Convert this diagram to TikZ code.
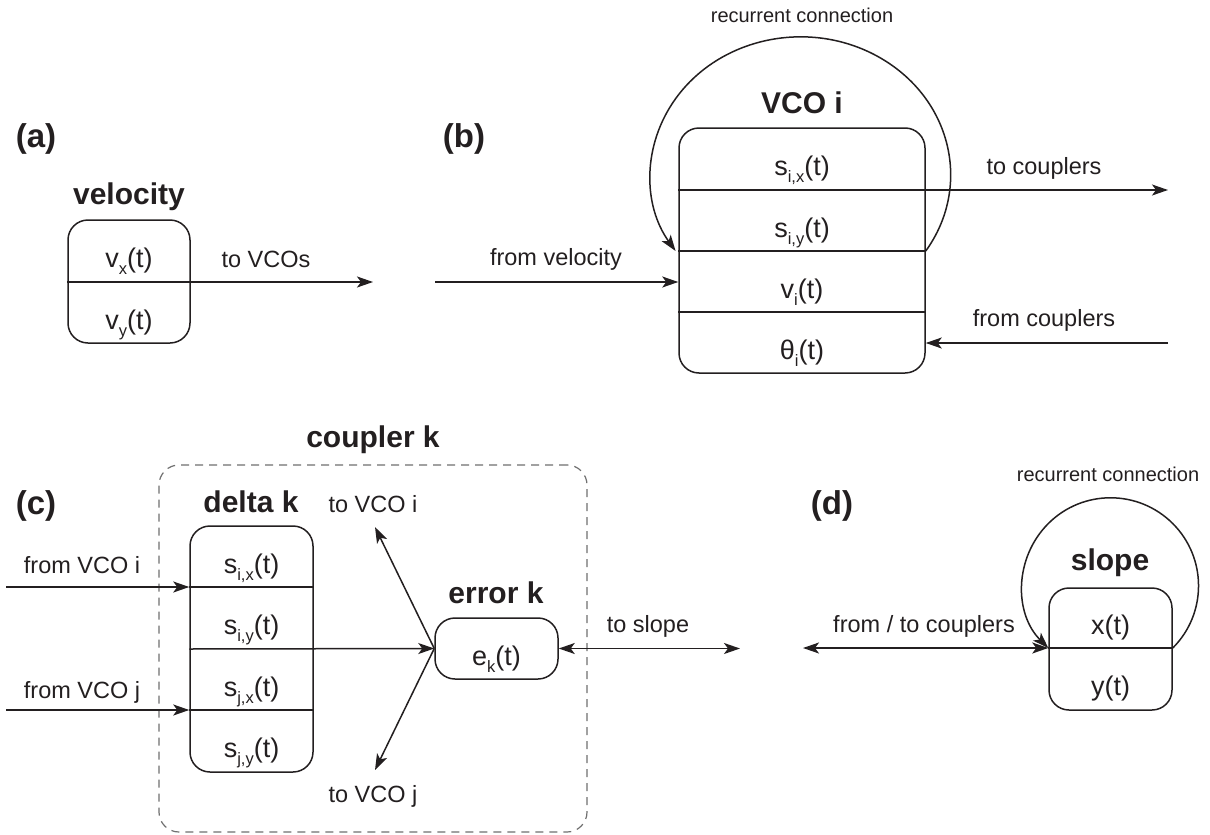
\documentclass[tikz,border=0pt]{standalone}
\usepackage{fontspec}
\setmainfont{Liberation Sans}
\usetikzlibrary{arrows.meta}
\definecolor{ink}{HTML}{231F20}
\definecolor{dashgray}{HTML}{707070}
\newcommand\sbs[1]{\raisebox{-7pt}{\fontsize{16.5}{16.5}\selectfont #1}}
\tikzset{
  box/.style={draw=ink, line width=1.5pt, rounded corners=20pt, inner sep=0pt},
  lab/.style={font=\fontsize{23.5}{23.5}\selectfont, text=ink, inner sep=0pt, anchor=base},
  small/.style={font=\fontsize{20}{20}\selectfont, text=ink, inner sep=0pt, anchor=base},
  cell/.style={font=\fontsize{27}{27}\selectfont, text=ink, inner sep=0pt, anchor=base},
  head/.style={font=\bfseries\fontsize{30}{30}\selectfont, text=ink, inner sep=0pt, anchor=base},
  panel/.style={font=\bfseries\fontsize{33}{33}\selectfont, text=ink, inner sep=0pt, anchor=base},
  wire/.style={draw=ink, line width=1.5pt},
  arr/.style={draw=ink, line width=1.5pt, -{Stealth[length=16pt,width=11pt,inset=4pt]}},
  dbl/.style={draw=ink, line width=1.5pt, {Stealth[length=16pt,width=11pt,inset=4pt]}-{Stealth[length=16pt,width=11pt,inset=4pt]}},
  dashbox/.style={draw=dashgray, line width=1.2pt, dash pattern=on 8pt off 6pt, rounded corners=20pt, inner sep=0pt},
}
\begin{document}
\begin{tikzpicture}[x=1pt,y=-1pt]
\useasboundingbox[fill=white] (0,0) rectangle (1210,835);

% ---------------- (a) ----------------
\node[panel] (pa) at (36,147) {(a)};
\node[head] (velt) at (129,204) {velocity};
\node[box, minimum width=122pt, minimum height=123pt] (vel) at (129,281.5) {};
\node[cell] (velx) at (129,267.5) {v\sbs{x}(t)};
\node[cell] (vely) at (129,329) {v\sbs{y}(t)};
\coordinate (velend) at (373,282);
\draw[arr] (vel.west |- velend) -- (velend);
\node[lab] (tovcos) at (266,267) {to VCOs};

% ---------------- (b) ----------------
\node[panel] (pb) at (464,147) {(b)};
\node[small] (rec1) at (802,22) {recurrent connection};
\node[head] (vcot) at (802,113) {VCO i};
\node[box, minimum width=246pt, minimum height=245pt] (vco) at (802,250.5) {};
\coordinate (vd1) at (802,190);
\coordinate (vd2) at (802,251);
\coordinate (vd3) at (802,312);
\node[cell] (sx) at (802,175.5) {s\sbs{i,x}(t)};
\node[cell] (sy) at (802,237) {s\sbs{i,y}(t)};
\node[cell] (vi) at (802,298) {v\sbs{i}(t)};
\node[cell] (thi) at (802,359) {θ\sbs{i}(t)};
\draw[wire] (vco.west |- vd2) -- (vco.east |- vd2);
\draw[wire] (vco.west |- vd3) -- (vco.east |- vd3);
\coordinate (tocoupend) at (1168,190);
\draw[arr] (vco.west |- vd1) -- (tocoupend);
\node[lab] (tocoup) at (1044,174) {to couplers};
\coordinate (fromvelstart) at (435,282);
\draw[arr] (fromvelstart) -- (vco.west |- fromvelstart);
\node[lab] (fromvel) at (556,265) {from velocity};
\coordinate (fromcoupstart) at (1168,343);
\draw[arr] (fromcoupstart) -- (vco.east |- fromcoupstart);
\node[lab] (fromcoup) at (1044,326) {from couplers};
\draw[arr] (vco.east |- vd2) arc[start angle=-33.5, end angle=213.5, x radius=150pt, y radius=138pt];

% ---------------- (c) ----------------
\node[panel] (pc) at (36,514) {(c)};
\node[dashbox, minimum width=428pt, minimum height=367pt] (coupler) at (373,648.5) {};
\node[head] (couplert) at (373,447) {coupler k};
\node[head] (deltat) at (251,512) {delta k};
\node[box, minimum width=123pt, minimum height=246pt] (delta) at (251.5,649) {};
\coordinate (dd1) at (251.5,587);
\coordinate (dd2) at (251.5,649);
\coordinate (dd3) at (251.5,710);
\node[cell] (dsix) at (251.5,573) {s\sbs{i,x}(t)};
\node[cell] (dsiy) at (251.5,634.5) {s\sbs{i,y}(t)};
\node[cell] (dsjx) at (251.5,696) {s\sbs{j,x}(t)};
\node[cell] (dsjy) at (251.5,757.5) {s\sbs{j,y}(t)};
\draw[wire] (delta.west |- dd1) -- (delta.east |- dd1);
\draw[wire] (delta.west |- dd3) -- (delta.east |- dd3);
\coordinate (fromi) at (6,587);
\coordinate (fromj) at (6,710);
\draw[arr] (fromi) -- (delta.west |- fromi);
\draw[arr] (fromj) -- (delta.west |- fromj);
\node[lab] (fromit) at (82,573) {from VCO i};
\node[lab] (fromjt) at (82,698) {from VCO j};
\node[head] (errt) at (496,603) {error k};
\node[box, minimum width=123pt, minimum height=61pt] (err) at (496.5,648.5) {};
\node[cell] (ek) at (496.5,665) {e\sbs{k}(t)};
\draw[arr] (delta.west |- dd2) -- (err.west);
\coordinate (tovi) at (375,527);
\coordinate (tovj) at (375,770);
\draw[arr] (err.west) -- (tovi);
\draw[arr] (err.west) -- (tovj);
\node[lab] (tovit) at (373,512) {to VCO i};
\node[lab] (tovjt) at (373,802) {to VCO j};
\coordinate (slopeend) at (740,648.5);
\draw[dbl] (err.east) -- (slopeend);
\node[lab] (toslope) at (648,632) {to slope};

% ---------------- (d) ----------------
\node[panel] (pd) at (832,514) {(d)};
\node[small] (rec2) at (1108,481) {recurrent connection};
\node[head] (slopet) at (1110,570) {slope};
\node[box, minimum width=123pt, minimum height=122pt] (slope) at (1110.5,649) {};
\coordinate (sd1) at (1110.5,648);
\node[cell] (sxt) at (1110.5,634.5) {x(t)};
\node[cell] (syt) at (1110.5,695.5) {y(t)};
\draw[wire] (slope.west |- sd1) -- (slope.east |- sd1);
\coordinate (fromto) at (803,648);
\draw[dbl] (fromto) -- (slope.west |- sd1);
\node[lab] (fromtot) at (924,632) {from / to couplers};
\draw[arr] (slope.east |- sd1) arc[start angle=-45, end angle=225, radius=88pt];
\end{tikzpicture}
\end{document}
